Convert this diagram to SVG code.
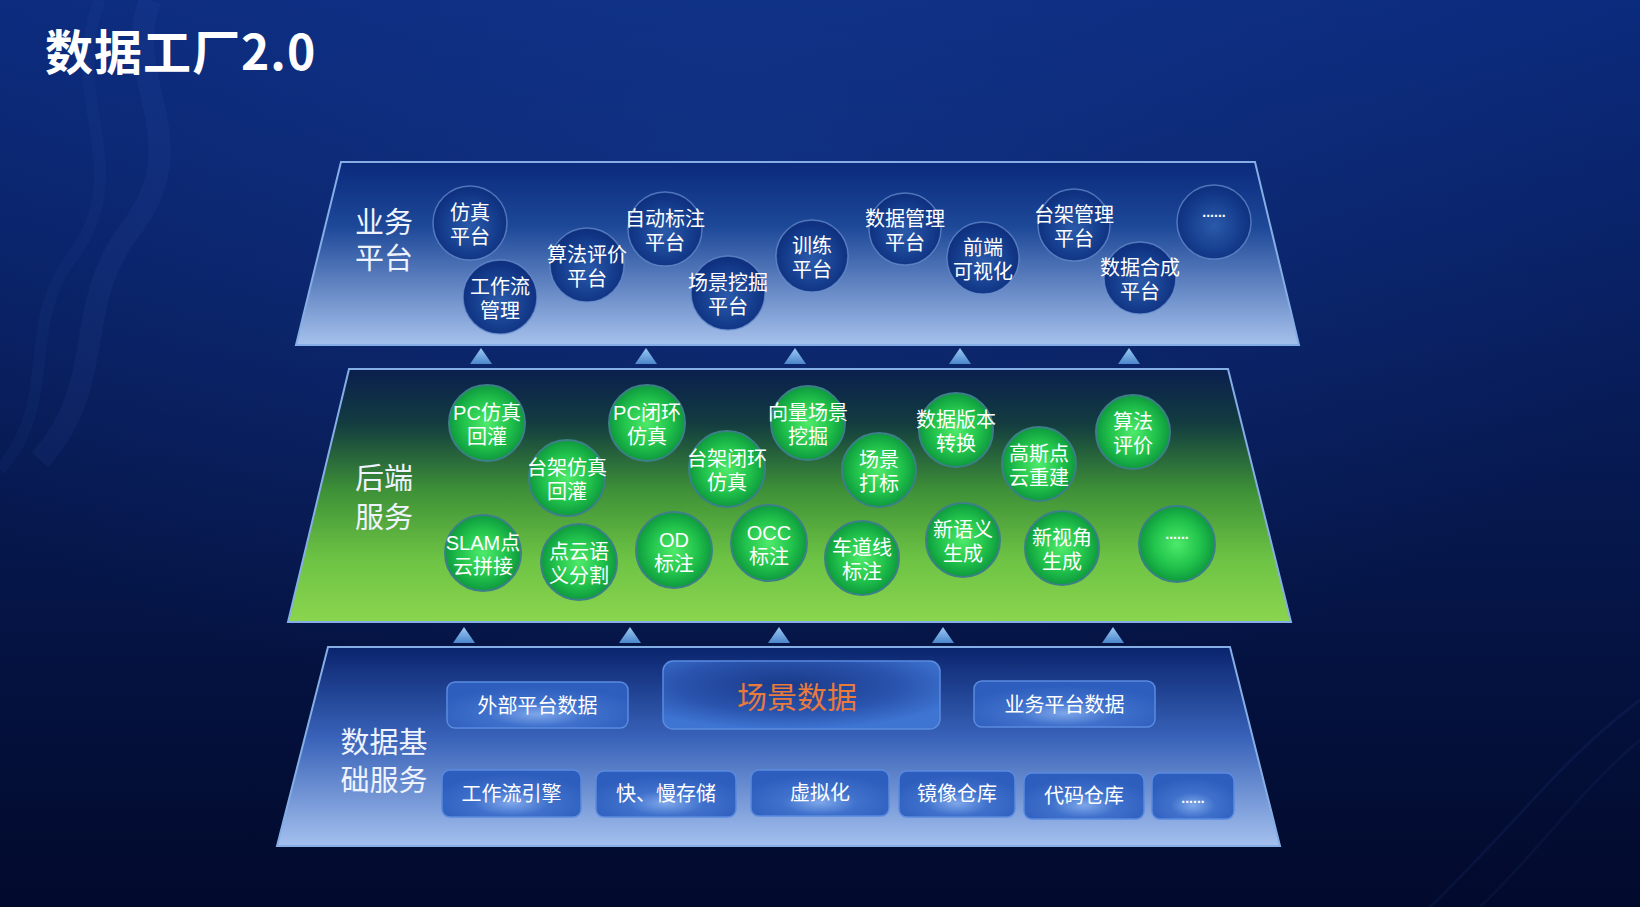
<svg xmlns="http://www.w3.org/2000/svg" width="1640" height="907" viewBox="0 0 1640 907">
<defs>
  <linearGradient id="bg" x1="0" y1="0" x2="0" y2="1">
    <stop offset="0" stop-color="#0b2a7c"/>
    <stop offset="0.45" stop-color="#071b56"/>
    <stop offset="1" stop-color="#020a2c"/>
  </linearGradient>
  <radialGradient id="bgGlow" cx="0.45" cy="0.2" r="0.6">
    <stop offset="0" stop-color="#1d47a8" stop-opacity="0.35"/>
    <stop offset="1" stop-color="#1d47a8" stop-opacity="0"/>
  </radialGradient>
  <linearGradient id="gTop" x1="0" y1="0" x2="0" y2="1">
    <stop offset="0" stop-color="#0b2a7c"/>
    <stop offset="0.35" stop-color="#1d4898"/>
    <stop offset="1" stop-color="#a6c1ec"/>
  </linearGradient>
  <linearGradient id="gMid" x1="0" y1="0" x2="0" y2="1">
    <stop offset="0" stop-color="#0a1f4e"/>
    <stop offset="0.22" stop-color="#133d3f"/>
    <stop offset="0.48" stop-color="#3e9137"/>
    <stop offset="0.75" stop-color="#6dc344"/>
    <stop offset="1" stop-color="#8bd54e"/>
  </linearGradient>
  <linearGradient id="gBot" x1="0" y1="0" x2="0" y2="1">
    <stop offset="0" stop-color="#0a246e"/>
    <stop offset="0.45" stop-color="#3862b8"/>
    <stop offset="1" stop-color="#a4c0ee"/>
  </linearGradient>
  <radialGradient id="cBlue" cx="0.5" cy="0.55" r="0.5">
    <stop offset="0" stop-color="#2b5aab"/>
    <stop offset="0.7" stop-color="#163e8e"/>
    <stop offset="1" stop-color="#0f3180"/>
  </radialGradient>
  <radialGradient id="cGreen" cx="0.5" cy="0.5" r="0.5">
    <stop offset="0" stop-color="#4eea6a"/>
    <stop offset="0.6" stop-color="#22c44c"/>
    <stop offset="1" stop-color="#0e9a3e"/>
  </radialGradient>
  <radialGradient id="box" cx="0.5" cy="0.7" r="0.6">
    <stop offset="0" stop-color="#7ea6ea"/>
    <stop offset="0.45" stop-color="#3f71cc"/>
    <stop offset="1" stop-color="#2e5ebd"/>
  </radialGradient>
  <radialGradient id="boxBig" cx="0.45" cy="0.35" r="0.65">
    <stop offset="0" stop-color="#1a3a88"/>
    <stop offset="0.6" stop-color="#2953ad"/>
    <stop offset="1" stop-color="#3e74d2"/>
  </radialGradient>
  <linearGradient id="tri" x1="0" y1="0" x2="0" y2="1">
    <stop offset="0" stop-color="#9ccaf4"/>
    <stop offset="1" stop-color="#4b86cc"/>
  </linearGradient>
  <style>
    .layer { stroke: #86aee6; stroke-width: 2; }
    .cb { fill: url(#cBlue); stroke: #6a90d0; stroke-width: 1.5; stroke-opacity: 0.7; }
    .cg { fill: url(#cGreen); stroke: #3d7f88; stroke-width: 2; }
    .t { font-family: "Liberation Sans", "Noto Sans CJK SC", sans-serif; fill: #ffffff; font-size: 20px; text-anchor: middle; }
    .lbl { font-size: 29px; fill: #eef3ff; }
    .dots { font-size: 14px; font-weight: bold; }
    .bx { fill: url(#box); stroke: #5a8be0; stroke-width: 1.5; }
    .tri { fill: url(#tri); }
    .title { font-family: "Noto Sans CJK SC", "Noto Sans", sans-serif; font-size: 48px; font-weight: bold; fill: #ffffff; }
  </style>
</defs>

<g id="background">
  <rect x="0" y="0" width="1640" height="907" fill="url(#bg)"/>
  <rect x="0" y="0" width="1640" height="907" fill="url(#bgGlow)"/>
  <path d="M150 0 C 120 80, 200 140, 130 230 C 70 310, 110 380, 40 460" fill="none" stroke="#4a78cc" stroke-opacity="0.08" stroke-width="22"/>
  <path d="M100 0 C 60 100, 140 170, 70 260 C 20 330, 60 400, 0 470" fill="none" stroke="#4a78cc" stroke-opacity="0.06" stroke-width="12"/>
  <path d="M1640 700 C 1560 760, 1520 820, 1430 907" fill="none" stroke="#3a66b8" stroke-opacity="0.1" stroke-width="3"/>
  <path d="M1640 740 C 1580 790, 1540 850, 1480 907" fill="none" stroke="#3a66b8" stroke-opacity="0.08" stroke-width="3"/>
</g>

<text id="title" class="title" x="45" y="70" letter-spacing="1">数据工厂2.0</text>

<g id="connectors">
  <polygon class="tri" points="470,364 481,348 492,364"/>
  <polygon class="tri" points="635,364 646,348 657,364"/>
  <polygon class="tri" points="784,364 795,348 806,364"/>
  <polygon class="tri" points="949,364 960,348 971,364"/>
  <polygon class="tri" points="1118,364 1129,348 1140,364"/>
  <polygon class="tri" points="453,643 464,627 475,643"/>
  <polygon class="tri" points="619,643 630,627 641,643"/>
  <polygon class="tri" points="768,643 779,627 790,643"/>
  <polygon class="tri" points="932,643 943,627 954,643"/>
  <polygon class="tri" points="1102,643 1113,627 1124,643"/>
</g>

<!-- Layer 1: 业务平台 -->
<g id="layer-business">
  <polygon class="layer" points="341,162 1255,162 1299,345 296,345" fill="url(#gTop)"/>
  <text class="t lbl" x="384" y="233">业务<tspan x="384" dy="36">平台</tspan></text>
</g>
<g id="n-sim-platform"><circle class="cb" cx="470" cy="223" r="37"/><text class="t" x="470" y="220">仿真<tspan x="470" dy="24">平台</tspan></text></g>
<g id="n-workflow-mgmt"><circle class="cb" cx="500" cy="297" r="37"/><text class="t" x="500" y="294">工作流<tspan x="500" dy="24">管理</tspan></text></g>
<g id="n-algo-eval-platform"><circle class="cb" cx="587" cy="265" r="37"/><text class="t" x="587" y="262">算法评价<tspan x="587" dy="24">平台</tspan></text></g>
<g id="n-auto-label-platform"><circle class="cb" cx="665" cy="229" r="37"/><text class="t" x="665" y="226">自动标注<tspan x="665" dy="24">平台</tspan></text></g>
<g id="n-scene-mining-platform"><circle class="cb" cx="728" cy="293" r="37"/><text class="t" x="728" y="290">场景挖掘<tspan x="728" dy="24">平台</tspan></text></g>
<g id="n-train-platform"><circle class="cb" cx="812" cy="256" r="36"/><text class="t" x="812" y="253">训练<tspan x="812" dy="24">平台</tspan></text></g>
<g id="n-data-mgmt-platform"><circle class="cb" cx="905" cy="229" r="36"/><text class="t" x="905" y="226">数据管理<tspan x="905" dy="24">平台</tspan></text></g>
<g id="n-frontend-vis"><circle class="cb" cx="983" cy="258" r="36"/><text class="t" x="983" y="255">前端<tspan x="983" dy="24">可视化</tspan></text></g>
<g id="n-rig-mgmt-platform"><circle class="cb" cx="1074" cy="225" r="36"/><text class="t" x="1074" y="222">台架管理<tspan x="1074" dy="24">平台</tspan></text></g>
<g id="n-data-synth-platform"><circle class="cb" cx="1140" cy="278" r="36"/><text class="t" x="1140" y="275">数据合成<tspan x="1140" dy="24">平台</tspan></text></g>
<g id="n-business-more"><circle class="cb" cx="1214" cy="222" r="37"/><text class="t dots" x="1214" y="217">......</text></g>

<!-- Layer 2: 后端服务 -->
<g id="layer-backend">
  <polygon class="layer" points="349,369 1228,369 1291,622 288,622" fill="url(#gMid)"/>
  <text class="t lbl" x="384" y="489">后端<tspan x="384" dy="39">服务</tspan></text>
</g>
<g id="n-pc-sim-replay"><circle class="cg" cx="487" cy="423" r="38"/><text class="t" x="487" y="420">PC仿真<tspan x="487" dy="24">回灌</tspan></text></g>
<g id="n-rig-sim-replay"><circle class="cg" cx="567" cy="478" r="38"/><text class="t" x="567" y="475">台架仿真<tspan x="567" dy="24">回灌</tspan></text></g>
<g id="n-pc-closed-loop"><circle class="cg" cx="647" cy="423" r="38"/><text class="t" x="647" y="420">PC闭环<tspan x="647" dy="24">仿真</tspan></text></g>
<g id="n-rig-closed-loop"><circle class="cg" cx="727" cy="469" r="38"/><text class="t" x="727" y="466">台架闭环<tspan x="727" dy="24">仿真</tspan></text></g>
<g id="n-vector-scene-mining"><circle class="cg" cx="808" cy="423" r="37"/><text class="t" x="808" y="420">向量场景<tspan x="808" dy="24">挖掘</tspan></text></g>
<g id="n-scene-tagging"><circle class="cg" cx="879" cy="470" r="37"/><text class="t" x="879" y="467">场景<tspan x="879" dy="24">打标</tspan></text></g>
<g id="n-data-version"><circle class="cg" cx="956" cy="430" r="37"/><text class="t" x="956" y="427">数据版本<tspan x="956" dy="24">转换</tspan></text></g>
<g id="n-gaussian-recon"><circle class="cg" cx="1039" cy="464" r="37"/><text class="t" x="1039" y="461">高斯点<tspan x="1039" dy="24">云重建</tspan></text></g>
<g id="n-algo-eval"><circle class="cg" cx="1133" cy="432" r="37"/><text class="t" x="1133" y="429">算法<tspan x="1133" dy="24">评价</tspan></text></g>
<g id="n-slam"><circle class="cg" cx="483" cy="553" r="38"/><text class="t" x="483" y="550">SLAM点<tspan x="483" dy="24">云拼接</tspan></text></g>
<g id="n-pc-semseg"><circle class="cg" cx="579" cy="562" r="38"/><text class="t" x="579" y="559">点云语<tspan x="579" dy="24">义分割</tspan></text></g>
<g id="n-od-label"><circle class="cg" cx="674" cy="550" r="38"/><text class="t" x="674" y="547">OD<tspan x="674" dy="24">标注</tspan></text></g>
<g id="n-occ-label"><circle class="cg" cx="769" cy="543" r="38"/><text class="t" x="769" y="540">OCC<tspan x="769" dy="24">标注</tspan></text></g>
<g id="n-lane-label"><circle class="cg" cx="862" cy="558" r="37"/><text class="t" x="862" y="555">车道线<tspan x="862" dy="24">标注</tspan></text></g>
<g id="n-new-semantic"><circle class="cg" cx="963" cy="540" r="37"/><text class="t" x="963" y="537">新语义<tspan x="963" dy="24">生成</tspan></text></g>
<g id="n-new-view"><circle class="cg" cx="1062" cy="548" r="37"/><text class="t" x="1062" y="545">新视角<tspan x="1062" dy="24">生成</tspan></text></g>
<g id="n-backend-more"><circle class="cg" cx="1177" cy="544" r="38"/><text class="t dots" x="1177" y="539">......</text></g>

<!-- Layer 3: 数据基础服务 -->
<g id="layer-data-infra">
  <polygon class="layer" points="328,647 1230,647 1280,846 277,846" fill="url(#gBot)"/>
  <text class="t lbl" x="384" y="753">数据基<tspan x="384" dy="38">础服务</tspan></text>
</g>
<g id="n-external-data"><rect class="bx" x="447" y="682" width="181" height="46" rx="8"/><text class="t" x="537.5" y="713">外部平台数据</text></g>
<g id="n-scene-data"><rect x="663" y="661" width="277" height="68" rx="10" fill="url(#boxBig)" stroke="#5a8be0" stroke-width="1.5"/><text class="t" x="797" y="708" style="font-size:30px;fill:#e87a3c">场景数据</text></g>
<g id="n-business-data"><rect class="bx" x="974" y="681" width="181" height="46" rx="8"/><text class="t" x="1064.5" y="712">业务平台数据</text></g>
<g id="n-workflow-engine"><rect class="bx" x="442" y="770" width="139" height="47" rx="8"/><text class="t" x="511.5" y="801">工作流引擎</text></g>
<g id="n-storage"><rect class="bx" x="596" y="771" width="140" height="46" rx="8"/><text class="t" x="666" y="801">快、慢存储</text></g>
<g id="n-virtualization"><rect class="bx" x="751" y="770" width="138" height="46" rx="8"/><text class="t" x="820" y="800">虚拟化</text></g>
<g id="n-image-repo"><rect class="bx" x="899" y="771" width="116" height="46" rx="8"/><text class="t" x="957" y="801">镜像仓库</text></g>
<g id="n-code-repo"><rect class="bx" x="1024" y="773" width="120" height="46" rx="8"/><text class="t" x="1084" y="803">代码仓库</text></g>
<g id="n-infra-more"><rect class="bx" x="1152" y="773" width="82" height="46" rx="8"/><text class="t dots" x="1193" y="803">......</text></g>
</svg>
